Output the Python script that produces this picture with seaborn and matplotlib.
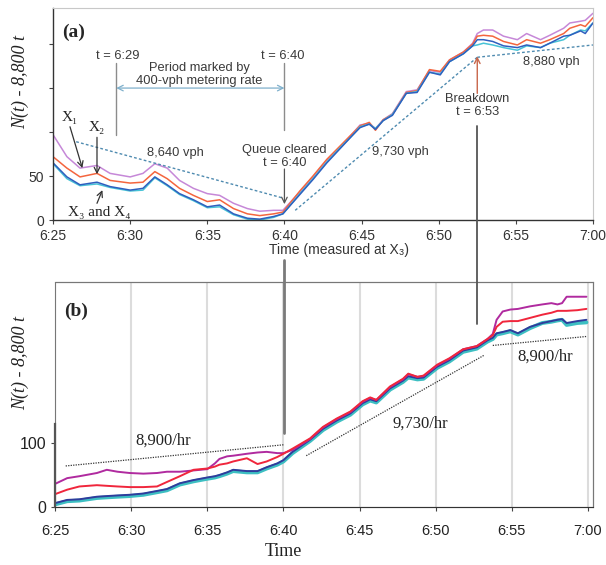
import pandas as pd
import numpy as np
import matplotlib
matplotlib.use("Agg")
import matplotlib.pyplot as plt
import seaborn as sns
from matplotlib.lines import Line2D
from matplotlib.patches import Rectangle

sns.set_style("ticks")
plt.rcParams['font.family'] = ['Liberation Sans', 'DejaVu Sans']
SERIF = ['Liberation Serif', 'DejaVu Serif']

# x axis: minutes after 6:25
TICK_MIN = [0, 5, 10, 15, 20, 25, 30, 35]
TICK_LABELS = ["6:25", "6:30", "6:35", "6:40", "6:45", "6:50", "6:55", "7:00"]
DETECTORS = ["X1", "X2", "X3", "X4"]

# ---- panel (a): cumulative counts, oblique axis N(t) - 8,800 t
A_TIME = [0, 0.9, 1.75, 2.85, 3.7, 5.0, 5.83, 6.6, 7.4, 8.2, 9.1, 10.0, 10.8, 11.7, 12.6, 13.4, 14.3, 14.9,
          16.0, 16.85, 17.75, 18.6, 19.45, 19.9, 20.5, 20.9, 21.4, 22.0,
          22.9, 23.6, 24.4, 25.1, 25.7, 26.6, 27.2, 27.5,
          27.9, 28.5, 29.2, 30.1, 30.7, 31.6, 32.2, 33.1, 33.5, 34.2, 34.5, 35.0]
A_X1 = [97, 72, 59, 62, 53, 49, 53, 64, 59, 45, 36, 30, 28, 19, 13, 10, 11, 11,
        32, 49, 68, 83, 99, 108, 110, 104, 114, 121,
        146, 148, 170, 168, 182, 191, 201, 212,
        216, 216, 209, 205, 212, 205, 210, 218, 224, 226, 227, 235]
A_X2 = [72, 59, 49, 53, 45, 42, 43, 55, 47, 36, 28, 21, 23, 13, 7, 5, 7, 9,
        33, 50, 69, 84, 99, 107, 111, 102, 114, 120,
        145, 147, 171, 169, 182, 191, 200, 209,
        210, 209, 203, 199, 205, 201, 205, 212, 218, 222, 220, 230]
A_X3 = [65, 49, 40, 43, 38, 34, 36, 49, 40, 30, 23, 15, 17, 7, 2, 1, 4, 7,
        29, 46, 65, 81, 97, 105, 109, 103, 113, 119,
        144, 145, 168, 165, 180, 189, 198, 205,
        205, 203, 198, 196, 199, 196, 201, 209, 210, 215, 212, 224]
A_X4 = [64, 47, 39, 41, 37, 33, 34, 48, 39, 29, 22, 14, 15, 6, 1, 0, 3, 7,
        30, 47, 66, 82, 97, 106, 109, 104, 113, 120,
        144, 146, 168, 166, 180, 189, 198, 199,
        201, 199, 196, 193, 198, 196, 201, 205, 210, 216, 215, 224]

# ---- panel (b)
B_TIME = [0, 0.8, 1.6, 2.75, 3.4, 4.1, 4.9, 5.8, 6.7, 7.35,
          8.2, 9.1, 10.0, 10.5, 10.8, 11.3, 11.7, 12.6, 13.3, 13.9,
          14.6, 15.0, 15.6, 16.75, 17.6, 18.5, 19.4, 20.2, 20.7, 21.1,
          22.0, 22.85, 23.2, 23.8, 24.2, 25.1, 25.9, 26.8, 27.7, 28.4,
          28.75, 29.0, 29.4, 29.9, 30.4, 31.2, 32.0, 32.6, 33.0, 33.3,
          33.6, 34.3, 34.9]
B_X1 = [36, 45, 48, 53, 58, 55, 53, 52, 53, 55,
        55, 57, 59, 68, 75, 79, 80, 83, 85, 86,
        84, 84, 89, 106, 124, 137, 148, 164, 170, 167,
        187, 199, 207, 203, 204, 221, 231, 246, 251, 262,
        270, 292, 305, 308, 309, 313, 316, 318, 316, 318,
        328, 328, 328]
B_X2 = [20, 27, 32, 34, 33, 32, 31, 31, 32, 39,
        48, 58, 60, 63, 66, 68, 71, 76, 67, 71,
        78, 83, 91, 107, 125, 138, 149, 165, 171, 167,
        188, 200, 208, 203, 205, 222, 232, 246, 251, 262,
        268, 281, 289, 290, 290, 295, 300, 303, 306, 306,
        306, 307, 309]
B_X3 = [6, 11, 12, 16, 17, 18, 19, 21, 25, 28,
        37, 42, 46, 48, 50, 54, 58, 56, 56, 62,
        68, 73, 86, 105, 122, 135, 146, 162, 168, 165,
        185, 197, 204, 201, 202, 219, 229, 244, 249, 260,
        264, 271, 273, 276, 271, 281, 287, 290, 292, 293,
        287, 290, 292]
B_X4 = [4, 9, 10, 14, 15, 16, 17, 19, 23, 26,
        35, 40, 44, 46, 48, 52, 56, 54, 54, 60,
        66, 71, 84, 103, 120, 133, 144, 160, 166, 163,
        183, 195, 202, 199, 200, 217, 227, 242, 247, 258,
        262, 269, 271, 274, 269, 279, 287, 289, 291, 292,
        284, 287, 288]

# reference rate lines (start/end in minutes and N values)
A_RATE_LINES = {"8,640 vph": ([1.5, 14.9], [89, 25]),
                "9,730 vph": ([15.7, 27.5], [11, 185]),
                "8,880 vph": ([27.5, 35.0], [185, 199])}
B_RATE_LINES = {"8,900/hr (early)": ([0.7, 15.0], [64, 97]),
                "9,730/hr": ([16.5, 28.2], [80, 237]),
                "8,900/hr (late)": ([28.75, 34.9], [252, 266])}

A_COLORS = {"X1": "#c688d8", "X2": "#f4653e", "X3": "#2f5fbf", "X4": "#47c3d6"}
B_COLORS = {"X1": "#b02a9f", "X2": "#f0263c", "X3": "#2f3c9c", "X4": "#3dbfc2"}
B_WIDTHS = {"X1": 1.4, "X2": 1.4, "X3": 1.4, "X4": 2.8}


def long_form(time, series):
    frames = [pd.DataFrame({"minute": time, "N": vals, "det": name}) for name, vals in series.items()]
    return pd.concat(frames, ignore_index=True)


df_a = long_form(A_TIME, {"X1": A_X1, "X2": A_X2, "X3": A_X3, "X4": A_X4})
df_b = long_form(B_TIME, {"X1": B_X1, "X2": B_X2, "X3": B_X3, "X4": B_X4})

fig = plt.figure(figsize=(6.06, 5.65), dpi=100)
ax_a = fig.add_axes([0.0875, 0.6106, 0.891, 0.3752])
ax_b = fig.add_axes([0.0908, 0.1027, 0.8877, 0.3982])

# ---------------- panel (a)
for det in ["X1", "X2", "X4", "X3"]:
    sns.lineplot(data=df_a[df_a.det == det], x="minute", y="N", color=A_COLORS[det],
                 lw=1.1, estimator=None, ax=ax_a, legend=False)

for (xs, ys) in A_RATE_LINES.values():
    ax_a.plot(xs, ys, color="#4f8bb0", lw=1.0, ls=(0, (2, 1.6)))

ax_a.set_xlim(0, 35)
ax_a.set_ylim(0, 241)
ax_a.set_xticks(TICK_MIN)
ax_a.set_xticklabels(TICK_LABELS, fontsize=10, color="#333333")
ax_a.set_yticks([0, 50, 100, 150, 200])
ax_a.set_yticklabels(["0", "50", "", "", ""], fontsize=10, color="#333333")
ax_a.tick_params(length=3, width=0.8, color="#444444")
for side in ["top", "right"]:
    ax_a.spines[side].set_visible(True)
    ax_a.spines[side].set_color("#c8c8c8")
for side in ["left", "bottom"]:
    ax_a.spines[side].set_color("#333333")
    ax_a.spines[side].set_linewidth(1.0)

ax_a.set_xlabel("Time (measured at X₃)", fontsize=10, color="#333333")
ax_a.xaxis.set_label_coords(0.53, -0.108)
ax_a.set_ylabel("N(t) - 8,800 t", fontsize=13, style="italic", family=SERIF, color="#222222")
ax_a.yaxis.set_label_coords(-0.045, 0.65)

txt = dict(fontsize=9.3, color="#3a3a3a", ha="center", va="center")
gray = "#8c8c8c"
ax_a.text(0.017, 0.887, "(a)", transform=ax_a.transAxes, fontsize=14, fontweight="bold",
          family=SERIF, va="center", ha="left")
ax_a.text(4.2, 187, "t = 6:29", **txt)
ax_a.text(14.9, 187, "t = 6:40", **txt)
ax_a.plot([4.1, 4.1], [178, 97], color=gray, lw=1.0)
ax_a.plot([15.0, 15.0], [178, 102], color=gray, lw=1.0)
ax_a.text(9.5, 165, "Period marked by\n400-vph metering rate", linespacing=1.1, **txt)
ax_a.annotate("", xy=(4.1, 150), xytext=(15.0, 150),
              arrowprops=dict(arrowstyle="<->", color="#7fb0cc", lw=0.9, shrinkA=0, shrinkB=0))
ax_a.text(7.9, 76, "8,640 vph", **txt)
ax_a.text(15.0, 72, "Queue cleared\nt = 6:40", linespacing=1.1, **txt)
ax_a.annotate("", xy=(15.0, 18), xytext=(15.0, 58),
              arrowprops=dict(arrowstyle="->", color="#555555", lw=0.9, shrinkA=0, shrinkB=0))
ax_a.text(22.5, 77, "9,730 vph", **txt)
ax_a.text(32.3, 180, "8,880 vph", **txt)
ax_a.text(27.5, 130, "Breakdown\nt = 6:53", linespacing=1.1, **txt)
ax_a.annotate("", xy=(27.5, 186), xytext=(27.5, 144),
              arrowprops=dict(arrowstyle="->", color="#c8664a", lw=1.0, shrinkA=0, shrinkB=0))

lab = dict(fontsize=11, family=SERIF, color="#222222", ha="center", va="center")
ax_a.text(1.1, 117, "X₁", **lab)
ax_a.text(2.85, 105, "X₂", **lab)
ax_a.text(3.0, 9, "X₃ and X₄", **lab)
arr = dict(arrowstyle="->", color="#333333", lw=0.9, shrinkA=0, shrinkB=0)
ax_a.annotate("", xy=(1.9, 59), xytext=(1.1, 106), arrowprops=arr)
ax_a.annotate("", xy=(2.85, 52), xytext=(2.85, 94), arrowprops=arr)
ax_a.annotate("", xy=(3.2, 34), xytext=(2.85, 19), arrowprops=arr)

# ---------------- panel (b)
ax_b.set_xlim(0, 35.33)
ax_b.set_ylim(0, 351)
ax_b.set_xticks(TICK_MIN)
ax_b.set_xticklabels(TICK_LABELS, fontsize=10.5, color="#222222")
ax_b.set_yticks([0, 100])
ax_b.set_yticklabels(["0", "100"], fontsize=11.5, color="#222222")
ax_b.grid(axis="x", color="#dcdcdc", lw=1.5)
ax_b.set_axisbelow(True)
ax_b.tick_params(length=3, width=0.8, color="#444444")
ax_b.tick_params(axis="x", pad=9)

for det in ["X4", "X3", "X1", "X2"]:
    sns.lineplot(data=df_b[df_b.det == det], x="minute", y="N", color=B_COLORS[det],
                 lw=B_WIDTHS[det], estimator=None, ax=ax_b, legend=False)

for (xs, ys) in B_RATE_LINES.values():
    ax_b.plot(xs, ys, color="#333333", lw=0.9, ls=(0, (1, 1)))

for side in ["top", "right", "bottom"]:
    ax_b.spines[side].set_visible(True)
    ax_b.spines[side].set_color("#777777")
ax_b.spines["bottom"].set_color("#333333")
ax_b.spines["left"].set_bounds(0, 130)
ax_b.spines["left"].set_color("#555555")
ax_b.spines["left"].set_linewidth(1.6)
ax_b.add_patch(Rectangle((0, 0), 1, 1, transform=ax_b.transAxes, fill=False,
                         edgecolor="#777777", lw=0.8, clip_on=False))

ax_b.set_xlabel("Time", fontsize=13, family=SERIF, color="#222222")
ax_b.xaxis.set_label_coords(0.424, -0.16)
ax_b.set_ylabel("N(t) - 8,800 t", fontsize=13, style="italic", family=SERIF, color="#222222")
ax_b.yaxis.set_label_coords(-0.049, 0.64)

ax_b.text(0.017, 0.87, "(b)", transform=ax_b.transAxes, fontsize=14, fontweight="bold",
          family=SERIF, va="center", ha="left")
rt = dict(fontsize=12, family=SERIF, color="#222222", ha="center", va="center")
ax_b.text(7.1, 103, "8,900/hr", **rt)
ax_b.text(24.0, 130, "9,730/hr", **rt)
ax_b.text(32.2, 234, "8,900/hr", **rt)

# connector lines between the panels
fig.add_artist(Line2D([284 / 606, 284 / 606], [1 - 260 / 565, 1 - 433 / 565],
                      transform=fig.transFigure, color="#7a7a7a", lw=2.0))
fig.add_artist(Line2D([477 / 606, 477 / 606], [1 - 126 / 565, 1 - 324 / 565],
                      transform=fig.transFigure, color="#555555", lw=1.3))

fig.savefig("out.png", dpi=100)
